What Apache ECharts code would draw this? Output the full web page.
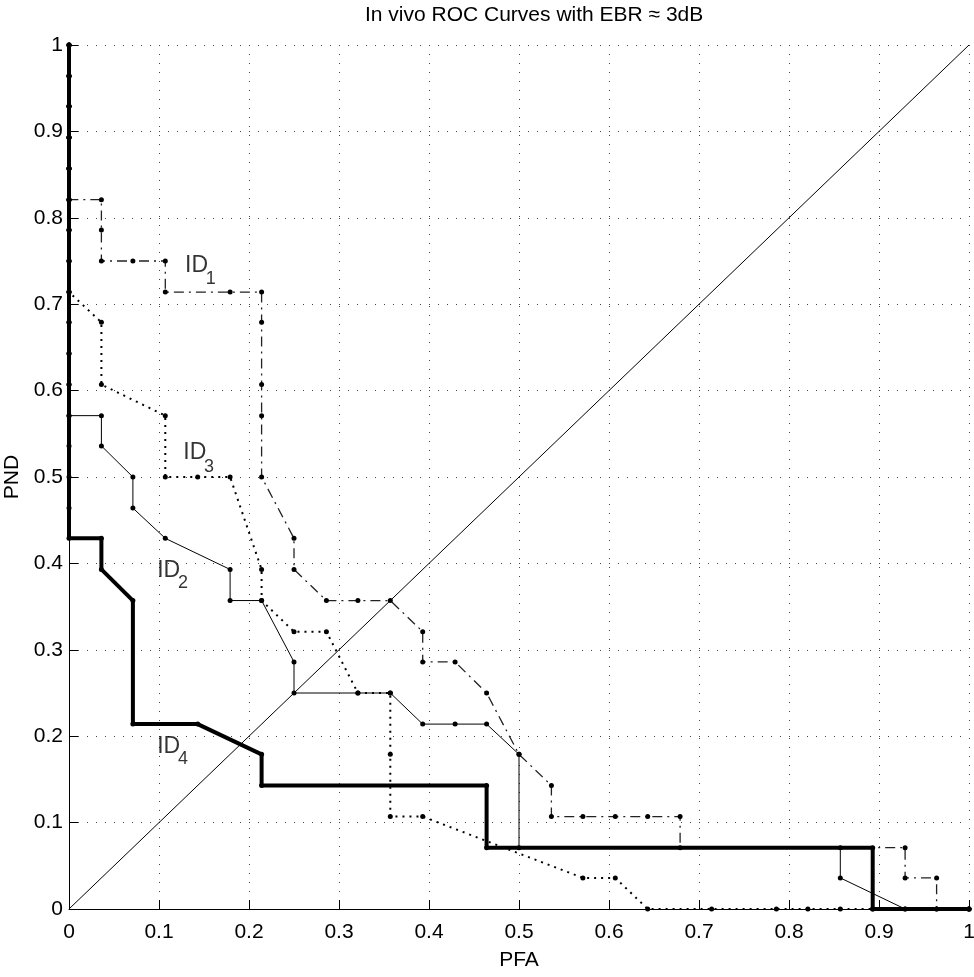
<!DOCTYPE html>
<html>
<head>
<meta charset="utf-8">
<script src="https://cdn.jsdelivr.net/npm/echarts@6/dist/echarts.min.js"></script>
<style>
html,body{margin:0;padding:0;background:#fff;}
#chart{width:974px;height:977px;}
</style>
</head>
<body>
<div id="chart"></div>
<script>
// ---- data ----
const xTicks = [0, 0.1, 0.2, 0.3, 0.4, 0.5, 0.6, 0.7, 0.8, 0.9, 1];
const yTicks = [0, 0.1, 0.2, 0.3, 0.4, 0.5, 0.6, 0.7, 0.8, 0.9, 1];

const id1X = [0, 0, 0, 0, 0, 0, 0.036, 0.036, 0.036, 0.071, 0.107, 0.107, 0.179, 0.214, 0.214, 0.214, 0.214, 0.214, 0.25, 0.25, 0.286, 0.321, 0.357, 0.393, 0.393, 0.429, 0.464, 0.5, 0.536, 0.536, 0.571, 0.607, 0.643, 0.679, 0.679, 0.929, 0.929, 0.964, 0.964, 1];
const id1Y = [1, 0.964, 0.929, 0.893, 0.857, 0.821, 0.821, 0.786, 0.75, 0.75, 0.75, 0.714, 0.714, 0.714, 0.679, 0.607, 0.571, 0.5, 0.429, 0.393, 0.357, 0.357, 0.357, 0.321, 0.286, 0.286, 0.25, 0.179, 0.143, 0.107, 0.107, 0.107, 0.107, 0.107, 0.071, 0.071, 0.036, 0.036, 0, 0];

const id2X = [0, 0, 0, 0, 0, 0, 0, 0, 0, 0, 0, 0, 0, 0.036, 0.036, 0.071, 0.071, 0.107, 0.179, 0.179, 0.214, 0.25, 0.25, 0.321, 0.357, 0.393, 0.429, 0.464, 0.5, 0.5, 0.857, 0.857, 0.929, 1];
const id2Y = [1, 0.964, 0.929, 0.893, 0.857, 0.821, 0.786, 0.75, 0.714, 0.679, 0.643, 0.607, 0.571, 0.571, 0.536, 0.5, 0.464, 0.429, 0.393, 0.357, 0.357, 0.286, 0.25, 0.25, 0.25, 0.214, 0.214, 0.214, 0.179, 0.071, 0.071, 0.036, 0, 0];

const id3X = [0, 0, 0, 0, 0, 0, 0, 0, 0, 0.036, 0.036, 0.107, 0.107, 0.143, 0.179, 0.214, 0.214, 0.25, 0.286, 0.321, 0.357, 0.357, 0.357, 0.393, 0.571, 0.607, 0.643, 0.714, 0.786, 0.821, 0.857, 0.893, 0.929, 0.964, 1];
const id3Y = [1, 0.964, 0.929, 0.893, 0.857, 0.821, 0.786, 0.75, 0.714, 0.679, 0.607, 0.571, 0.5, 0.5, 0.5, 0.393, 0.357, 0.321, 0.321, 0.25, 0.25, 0.179, 0.107, 0.107, 0.036, 0.036, 0, 0, 0, 0, 0, 0, 0, 0, 0];

const id4X = [0, 0, 0, 0, 0, 0, 0, 0, 0, 0, 0, 0, 0, 0, 0, 0, 0, 0.036, 0.036, 0.071, 0.071, 0.143, 0.214, 0.214, 0.464, 0.464, 0.893, 0.893, 1];
const id4Y = [1, 0.964, 0.929, 0.893, 0.857, 0.821, 0.786, 0.75, 0.714, 0.679, 0.643, 0.607, 0.571, 0.536, 0.5, 0.464, 0.429, 0.429, 0.393, 0.357, 0.214, 0.214, 0.179, 0.143, 0.143, 0.071, 0.071, 0, 0];

const diagX = [0, 1];
const diagY = [0, 1];

const curveNames = ['ID', 'ID', 'ID', 'ID'];
const curveSubs = ['1', '2', '3', '4'];

// ---- chart ----
const FONT = '"Liberation Sans", Arial, Helvetica, sans-serif';
const zip = (xs, ys) => xs.map((x, i) => [x, ys[i]]);

const chart = echarts.init(document.getElementById('chart'), null, {renderer: 'canvas'});

function lineSeries(name, xs, ys, lineStyle, withSymbol) {
  return {
    name: name,
    type: 'line',
    data: zip(xs, ys),
    showSymbol: withSymbol,
    symbol: 'circle',
    symbolSize: 5,
    itemStyle: {color: '#000'},
    lineStyle: Object.assign({color: '#000', width: 1}, lineStyle),
    animation: false,
    z: 3
  };
}

// label anchors (data coordinates) for the curve annotations
const labelAnchors = [
  {main: [0.129, 0.745], sub: [0.152, 0.729]},
  {main: [0.098, 0.392], sub: [0.121, 0.377]},
  {main: [0.127, 0.528], sub: [0.150, 0.512]},
  {main: [0.098, 0.188], sub: [0.121, 0.174]}
];

const labelSeries = {
  type: 'scatter',
  symbolSize: 0,
  silent: true,
  animation: false,
  z: 5,
  data: [],
  label: {show: false}
};
labelAnchors.forEach((a, i) => {
  labelSeries.data.push({
    value: a.main,
    label: {show: true, position: 'inside', align: 'left', verticalAlign: 'middle',
      formatter: curveNames[i], fontFamily: FONT, fontSize: 23, color: '#000'}
  });
  labelSeries.data.push({
    value: a.sub,
    label: {show: true, position: 'inside', align: 'left', verticalAlign: 'middle',
      formatter: curveSubs[i], fontFamily: FONT, fontSize: 18, color: '#000'}
  });
});

const option = {
  backgroundColor: '#fff',
  animation: false,
  title: {
    text: 'In vivo ROC Curves with EBR \u2248 3dB',
    left: 365,
    top: 5,
    padding: 0,
    textStyle: {fontFamily: FONT, fontSize: 21, fontWeight: 'normal', color: '#000'}
  },
  grid: {left: 69, right: 5, top: 45, bottom: 68, containLabel: false, outerBoundsMode: 'none'},
  xAxis: {
    type: 'value',
    min: xTicks[0],
    max: xTicks[xTicks.length - 1],
    interval: 0.1,
    name: 'PFA',
    nameLocation: 'middle',
    nameGap: 41,
    nameTextStyle: {fontFamily: FONT, fontSize: 21, color: '#000'},
    axisLine: {show: true, onZero: false, lineStyle: {color: '#000', width: 1}},
    axisTick: {show: true, inside: true, length: 9, lineStyle: {color: '#000'}},
    axisLabel: {show: true, margin: 13, fontFamily: FONT, fontSize: 21, color: '#000',
      formatter: v => String(Math.round(v * 10) / 10)},
    splitLine: {show: true, lineStyle: {color: '#444', width: 1, type: [1, 8]}}
  },
  yAxis: {
    type: 'value',
    min: yTicks[0],
    max: yTicks[yTicks.length - 1],
    interval: 0.1,
    name: 'PND',
    nameLocation: 'middle',
    nameGap: 41,
    nameTextStyle: {fontFamily: FONT, fontSize: 21, color: '#000'},
    axisLine: {show: true, onZero: false, lineStyle: {color: '#000', width: 1}},
    axisTick: {show: true, inside: true, length: 9, lineStyle: {color: '#000'}},
    axisLabel: {show: true, margin: 6, fontFamily: FONT, fontSize: 21, color: '#000',
      formatter: v => String(Math.round(v * 10) / 10)},
    splitLine: {show: true, lineStyle: {color: '#444', width: 1, type: [1, 8]}}
  },
  series: [
    lineSeries('diag', diagX, diagY, {width: 1}, false),
    lineSeries('ID3', id3X, id3Y, {width: 2, type: [2, 5]}, true),
    lineSeries('ID1', id1X, id1Y, {width: 1.3, type: [10, 5, 2, 5], color: '#222'}, true),
    lineSeries('ID2', id2X, id2Y, {width: 1}, true),
    lineSeries('ID4', id4X, id4Y, {width: 4}, true),
    labelSeries
  ]
};
chart.setOption(option);
</script>
</body>
</html>
